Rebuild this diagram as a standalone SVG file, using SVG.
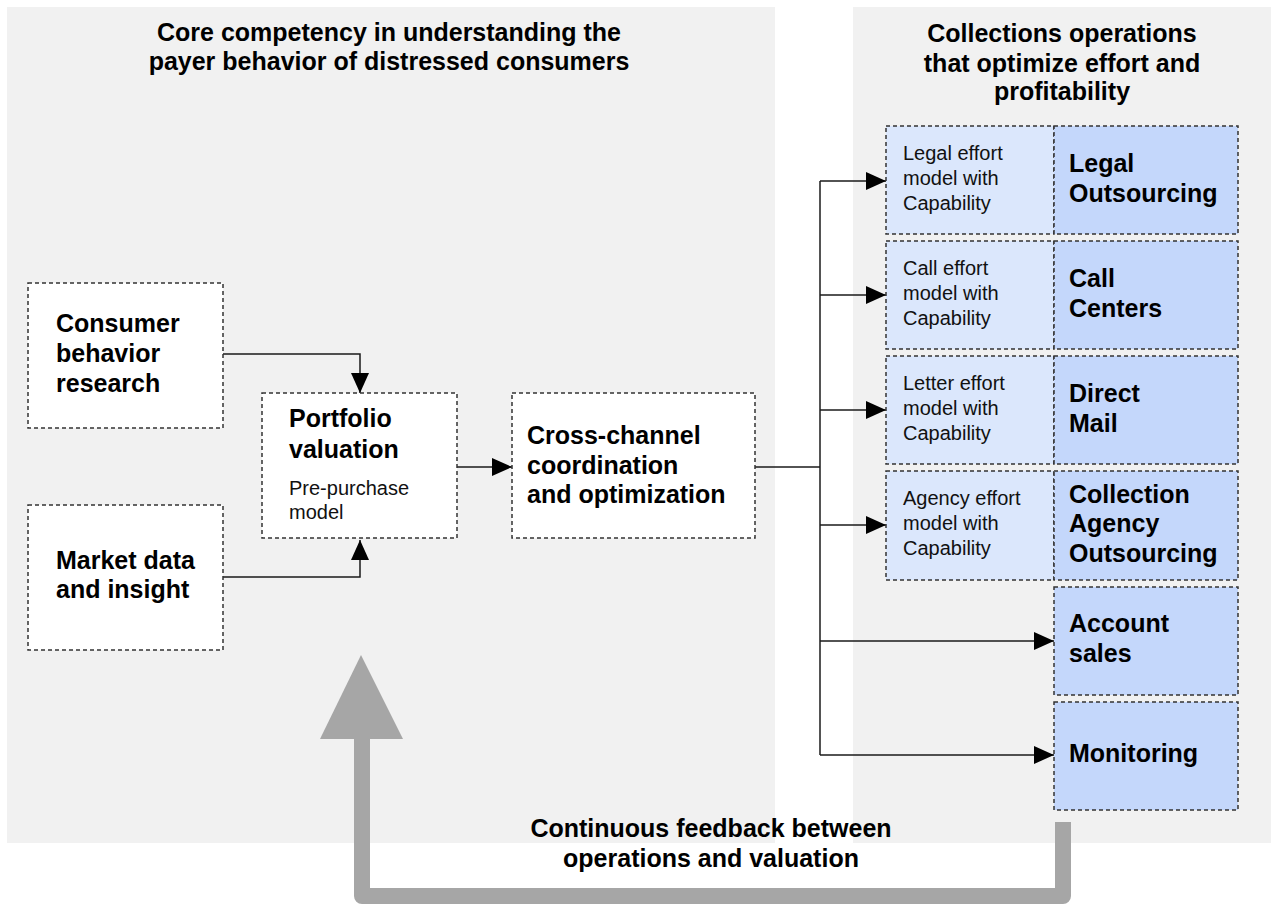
<svg xmlns="http://www.w3.org/2000/svg" width="1271" height="906" viewBox="0 0 1271 906">
  <style>
    .panel { fill: #f1f1f1; }
    .box { fill: #ffffff; stroke: #333333; stroke-width: 1.5; stroke-dasharray: 4 3; }
    .cell-l { fill: #dbe7fc; stroke: #333333; stroke-width: 1.5; stroke-dasharray: 4 3; }
    .cell-r { fill: #c4d7fb; stroke: #333333; stroke-width: 1.5; stroke-dasharray: 4 3; }
    .b { font-family: "Liberation Sans", Arial, sans-serif; font-weight: bold; font-size: 25px; fill: #000000; }
    .r { font-family: "Liberation Sans", Arial, sans-serif; font-size: 20px; fill: #111111; }
    .mid { text-anchor: middle; }
    .wire { fill: none; stroke: #1a1a1a; stroke-width: 1.5; }
    .loop { fill: none; stroke: #a6a6a6; stroke-width: 16; stroke-linejoin: round; }
  </style>
  <defs>
    <marker id="tip" markerUnits="userSpaceOnUse" markerWidth="20" markerHeight="18" viewBox="0 0 20 18" refX="20" refY="9" orient="auto">
      <path d="M0,0 L20,9 L0,18 z" fill="#000000"/>
    </marker>
  </defs>

  <!-- background panels -->
  <rect class="panel" x="7" y="7" width="768" height="836"/>
  <rect class="panel" x="853" y="7" width="418" height="836"/>

  <!-- panel headings -->
  <text class="b mid" x="389" y="41">Core competency in understanding the</text>
  <text class="b mid" x="389" y="70">payer behavior of distressed consumers</text>
  <text class="b mid" x="1062" y="42">Collections operations</text>
  <text class="b mid" x="1062" y="72">that optimize effort and</text>
  <text class="b mid" x="1062" y="100">profitability</text>

  <!-- feedback loop -->
  <g id="feedback">
    <path class="loop" d="M1063,822 L1063,896 L362,896 L362,736"/>
    <polygon points="361,655 320,739 403,739" fill="#a6a6a6"/>
    <text class="b mid" x="711" y="837">Continuous feedback between</text>
    <text class="b mid" x="711" y="867">operations and valuation</text>
  </g>

  <!-- connectors -->
  <g id="connectors">
    <path class="wire" d="M223,354 H360 V393" marker-end="url(#tip)"/>
    <path class="wire" d="M223,577 H360 V540" marker-end="url(#tip)"/>
    <path class="wire" d="M457,467 H512" marker-end="url(#tip)"/>
    <path class="wire" d="M755,467 H820"/>
    <path class="wire" d="M820,181 V755"/>
    <path class="wire" d="M820,181 H886" marker-end="url(#tip)"/>
    <path class="wire" d="M820,295 H886" marker-end="url(#tip)"/>
    <path class="wire" d="M820,410 H886" marker-end="url(#tip)"/>
    <path class="wire" d="M820,525 H886" marker-end="url(#tip)"/>
    <path class="wire" d="M820,641 H1054" marker-end="url(#tip)"/>
    <path class="wire" d="M820,755 H1054" marker-end="url(#tip)"/>
  </g>

  <!-- inputs -->
  <g id="consumer-research">
    <rect class="box" x="28" y="283" width="195" height="145"/>
    <text class="b" x="56" y="332">Consumer</text>
    <text class="b" x="56" y="362">behavior</text>
    <text class="b" x="56" y="392">research</text>
  </g>
  <g id="market-data">
    <rect class="box" x="28" y="505" width="195" height="145"/>
    <text class="b" x="56" y="569">Market data</text>
    <text class="b" x="56" y="598">and insight</text>
  </g>
  <g id="portfolio-valuation">
    <rect class="box" x="262" y="393" width="195" height="145"/>
    <text class="b" x="289" y="427">Portfolio</text>
    <text class="b" x="289" y="458">valuation</text>
    <text class="r" x="289" y="495">Pre-purchase</text>
    <text class="r" x="289" y="519">model</text>
  </g>
  <g id="cross-channel">
    <rect class="box" x="512" y="393" width="243" height="145"/>
    <text class="b" x="527" y="444">Cross-channel</text>
    <text class="b" x="527" y="474">coordination</text>
    <text class="b" x="527" y="503">and optimization</text>
  </g>

  <!-- collection channels -->
  <g id="legal">
    <rect class="cell-l" x="886" y="126" width="168" height="108"/>
    <rect class="cell-r" x="1054" y="126" width="184" height="108"/>
    <text class="r" x="903" y="160">Legal effort</text>
    <text class="r" x="903" y="185">model with</text>
    <text class="r" x="903" y="210">Capability</text>
    <text class="b" x="1069" y="172">Legal</text>
    <text class="b" x="1069" y="202">Outsourcing</text>
  </g>
  <g id="call">
    <rect class="cell-l" x="886" y="241" width="168" height="108"/>
    <rect class="cell-r" x="1054" y="241" width="184" height="108"/>
    <text class="r" x="903" y="275">Call effort</text>
    <text class="r" x="903" y="300">model with</text>
    <text class="r" x="903" y="325">Capability</text>
    <text class="b" x="1069" y="287">Call</text>
    <text class="b" x="1069" y="317">Centers</text>
  </g>
  <g id="letter">
    <rect class="cell-l" x="886" y="356" width="168" height="108"/>
    <rect class="cell-r" x="1054" y="356" width="184" height="108"/>
    <text class="r" x="903" y="390">Letter effort</text>
    <text class="r" x="903" y="415">model with</text>
    <text class="r" x="903" y="440">Capability</text>
    <text class="b" x="1069" y="402">Direct</text>
    <text class="b" x="1069" y="432">Mail</text>
  </g>
  <g id="agency">
    <rect class="cell-l" x="886" y="471" width="168" height="109"/>
    <rect class="cell-r" x="1054" y="471" width="184" height="109"/>
    <text class="r" x="903" y="505">Agency effort</text>
    <text class="r" x="903" y="530">model with</text>
    <text class="r" x="903" y="555">Capability</text>
    <text class="b" x="1069" y="503">Collection</text>
    <text class="b" x="1069" y="532">Agency</text>
    <text class="b" x="1069" y="562">Outsourcing</text>
  </g>
  <g id="account-sales">
    <rect class="cell-r" x="1054" y="587" width="184" height="108"/>
    <text class="b" x="1069" y="632">Account</text>
    <text class="b" x="1069" y="662">sales</text>
  </g>
  <g id="monitoring">
    <rect class="cell-r" x="1054" y="702" width="184" height="108"/>
    <text class="b" x="1069" y="762">Monitoring</text>
  </g>
</svg>
